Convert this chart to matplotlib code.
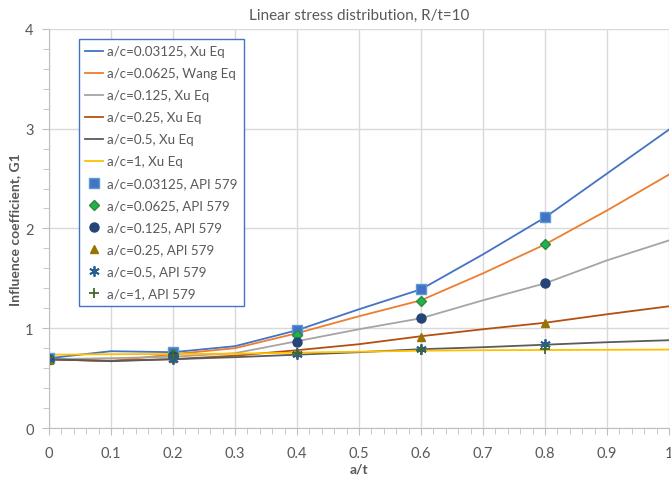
import matplotlib.pyplot as plt

plt.rcParams['font.family'] = ['Lato', 'DejaVu Sans']

# Xu / Wang equation curves, read at a/t = 0, 0.1, ..., 1
x_eq = [0.0, 0.1, 0.2, 0.3, 0.4, 0.5, 0.6, 0.7, 0.8, 0.9, 1.0]
g_003125 = [0.70, 0.77, 0.76, 0.82, 0.98, 1.19, 1.39, 1.74, 2.11, 2.55, 2.99]
g_00625 = [0.69, 0.67, 0.74, 0.80, 0.95, 1.12, 1.28, 1.55, 1.84, 2.18, 2.54]
g_0125 = [0.69, 0.70, 0.715, 0.75, 0.87, 0.99, 1.10, 1.28, 1.45, 1.68, 1.88]
g_025 = [0.685, 0.675, 0.69, 0.725, 0.78, 0.84, 0.92, 0.99, 1.055, 1.14, 1.22]
g_05 = [0.69, 0.67, 0.69, 0.71, 0.735, 0.76, 0.79, 0.81, 0.835, 0.86, 0.88]
g_1 = [0.735, 0.74, 0.742, 0.745, 0.755, 0.765, 0.775, 0.78, 0.782, 0.784, 0.786]

# API 579 points
x_api = [0.0, 0.2, 0.4, 0.6, 0.8]
api_003125 = [0.70, 0.76, 0.98, 1.39, 2.11]
api_00625 = [0.69, 0.74, 0.93, 1.275, 1.84]
api_0125 = [0.69, 0.72, 0.86, 1.10, 1.45]
api_025 = [0.68, 0.70, 0.765, 0.91, 1.05]
api_05 = [0.69, 0.69, 0.74, 0.79, 0.84]
api_1 = [0.71, 0.73, 0.75, 0.78, 0.79]

x_ticks = [0, 0.1, 0.2, 0.3, 0.4, 0.5, 0.6, 0.7, 0.8, 0.9, 1]
x_labels = ['0', '0.1', '0.2', '0.3', '0.4', '0.5', '0.6', '0.7', '0.8', '0.9', '1']
y_ticks = [0, 1, 2, 3, 4]

fig = plt.figure(figsize=(6.71, 4.81), dpi=100)
ax = fig.add_axes([0.073, 0.108, 0.924, 0.83])

lw = 1.3
ax.plot(x_eq, g_003125, color='#4472C4', lw=lw, label='a/c=0.03125, Xu Eq')
ax.plot(x_eq, g_00625, color='#ED7D31', lw=lw, label='a/c=0.0625, Wang Eq')
ax.plot(x_eq, g_0125, color='#A5A5A5', lw=lw, label='a/c=0.125, Xu Eq')
ax.plot(x_eq, g_025, color='#B4500F', lw=lw, label='a/c=0.25, Xu Eq')
ax.plot(x_eq, g_05, color='#5A5A5A', lw=lw, label='a/c=0.5, Xu Eq')
ax.plot(x_eq, g_1, color='#FFC000', lw=lw, label='a/c=1, Xu Eq')

ax.plot(x_api, api_003125, ls='none', marker='s', ms=6.5, color='#4472C4', mec='#5B9BD5',
        label='a/c=0.03125, API 579')
ax.plot(x_api, api_00625, ls='none', marker='D', ms=5, color='#22B14C', mec='#2E8B3E',
        label='a/c=0.0625, API 579')
ax.plot(x_api, api_0125, ls='none', marker='o', ms=6.5, color='#264478',
        label='a/c=0.125, API 579')
ax.plot(x_api, api_025, ls='none', marker='^', ms=6, color='#997300',
        label='a/c=0.25, API 579')
ax.plot(x_api, api_05, ls='none', marker=(6, 2, 0), ms=7.5, mew=1.3, color='#255E91',
        label='a/c=0.5, API 579')
ax.plot(x_api, api_1, ls='none', marker='+', ms=7, mew=1.3, color='#43682B',
        label='a/c=1, API 579')

ax.set_xlim(0, 1)
ax.set_ylim(0, 4)
ax.set_xticks(x_ticks)
ax.set_xticklabels(x_labels)
ax.set_xticks([i * 0.02 for i in range(51)], minor=True)
ax.set_yticks(y_ticks)
ax.set_yticks([i * 0.2 for i in range(21)], minor=True)
ax.grid(True, which='major', color='#D9D9D9', lw=1)
ax.set_axisbelow(True)
for s in ['top', 'right']:
    ax.spines[s].set_visible(False)
for s in ['left', 'bottom']:
    ax.spines[s].set_color('#BFBFBF')
ax.tick_params(which='both', colors='#BFBFBF', labelcolor='#595959', labelsize=10.5)
ax.tick_params(which='major', length=5)
ax.tick_params(which='minor', length=4)
ax.tick_params(axis='x', pad=8)
ax.tick_params(axis='y', pad=6)

ax.set_xlabel('a/t', fontsize=10, fontweight='bold', color='#595959', labelpad=2)
ax.set_ylabel('Influence coefficient, G1', fontsize=10, fontweight='bold', color='#595959', labelpad=3)
ax.set_title('Linear stress distribution, R/t=10', fontsize=11, color='#595959', pad=7)

leg = ax.legend(loc='upper left', bbox_to_anchor=(0.048, 0.975), borderaxespad=0,
                fontsize=9.6, labelspacing=0.75, handlelength=1.3, handletextpad=0.3,
                fancybox=False, framealpha=1, borderpad=0.5, labelcolor='#595959')
leg.get_frame().set_edgecolor('#4472C4')
leg.get_frame().set_linewidth(1)

fig.savefig('out.png', dpi=100)
